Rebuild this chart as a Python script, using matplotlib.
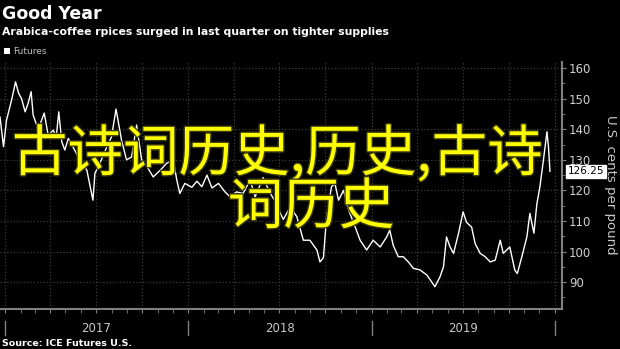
import numpy as np
import pandas as pd
import matplotlib
matplotlib.use("Agg")
import matplotlib.pyplot as plt
import matplotlib.dates as mdates
from matplotlib.patches import Patch
from matplotlib import patheffects
from matplotlib import transforms

# Arabica coffee futures, U.S. cents per pound
dates = [
    "2016-12-22", "2016-12-29", "2017-01-04", "2017-01-14", "2017-01-22", "2017-01-28",
    "2017-02-03", "2017-02-10", "2017-02-16", "2017-02-22", "2017-02-26", "2017-03-05",
    "2017-03-12", "2017-03-20", "2017-03-28", "2017-04-07", "2017-04-13", "2017-04-18",
    "2017-04-24", "2017-04-30", "2017-05-07", "2017-05-17", "2017-05-30", "2017-06-13",
    "2017-06-25", "2017-06-29", "2017-07-09", "2017-07-22", "2017-08-01", "2017-08-10",
    "2017-08-15", "2017-08-21", "2017-08-31", "2017-09-10", "2017-09-20", "2017-09-30",
    "2017-10-10", "2017-10-23", "2017-11-06", "2017-11-19", "2017-12-02", "2017-12-09",
    "2017-12-15", "2017-12-25", "2018-01-08", "2018-01-18", "2018-01-28", "2018-02-07",
    "2018-02-17", "2018-03-02", "2018-03-15", "2018-03-25", "2018-04-07", "2018-04-20",
    "2018-05-04", "2018-05-14", "2018-05-30", "2018-06-13", "2018-06-26", "2018-07-03",
    "2018-07-09", "2018-07-23", "2018-08-05", "2018-08-18", "2018-08-31", "2018-09-14",
    "2018-09-20", "2018-09-27", "2018-10-03", "2018-10-13", "2018-10-20", "2018-10-27",
    "2018-11-06", "2018-11-16", "2018-11-29", "2018-12-09", "2018-12-22", "2019-01-04",
    "2019-01-18", "2019-01-31", "2019-02-06", "2019-02-13", "2019-02-23", "2019-03-05",
    "2019-03-15", "2019-03-25", "2019-04-07", "2019-04-21", "2019-05-07", "2019-05-17",
    "2019-05-24", "2019-05-30", "2019-06-06", "2019-06-13", "2019-06-23", "2019-07-02",
    "2019-07-09", "2019-07-19", "2019-07-26", "2019-08-05", "2019-08-15", "2019-08-25",
    "2019-09-04", "2019-09-14", "2019-09-20", "2019-10-03", "2019-10-13", "2019-10-18",
    "2019-10-27", "2019-11-06", "2019-11-12", "2019-11-20", "2019-11-26", "2019-12-02",
    "2019-12-09", "2019-12-16", "2019-12-19", "2019-12-22",
]
prices = [
    144.0, 134.3, 143.0, 149.5, 155.5, 151.8,
    150.0, 145.7, 148.5, 152.3, 144.6, 141.4,
    141.7, 145.3, 138.0, 139.7, 137.5, 145.7,
    135.9, 133.2, 137.0, 134.0, 130.0, 126.6,
    116.8, 125.6, 128.9, 134.0, 137.5, 146.6,
    142.0, 136.4, 130.0, 130.9, 141.4, 130.0,
    128.0, 124.4, 126.6, 128.9, 130.0, 123.4,
    119.0, 122.3, 121.0, 123.0, 121.2, 125.0,
    120.8, 122.3, 119.5, 117.9, 119.5, 119.0,
    123.4, 117.9, 124.2, 119.0, 115.7, 112.6,
    110.5, 114.6, 111.4, 103.7, 103.7, 100.5,
    96.6, 98.0, 111.0, 121.2, 122.2, 116.8,
    120.0, 113.6, 108.1, 103.7, 100.5, 103.7,
    101.5, 104.8, 107.0, 102.0, 98.3, 98.3,
    96.6, 94.5, 94.0, 92.3, 88.5, 91.7,
    95.0, 104.8, 101.5, 99.4, 106.0, 113.0,
    109.5, 108.0, 102.6, 99.4, 98.3, 96.6,
    97.2, 103.7, 99.4, 101.5, 93.9, 92.8,
    98.3, 104.8, 112.5, 106.0, 115.7, 121.2,
    130.0, 139.2, 134.2, 126.25,
]
years = ["2017", "2018", "2019"]
yticks = [90, 100, 110, 120, 130, 140, 150, 160]
last_label = "126.25"

title = "Good Year"
subtitle = "Arabica-coffee rpices surged in last quarter on tighter supplies"
source = "Source: ICE Futures U.S."
overlay1 = "古诗词历史,历史,古诗"
overlay2 = "词历史"

cjk = ['Noto Sans CJK SC', 'DejaVu Sans']

x = pd.to_datetime(dates)

fig = plt.figure(figsize=(6.2, 3.49), dpi=100, facecolor='black')
ax = fig.add_axes([0.0, 0.1146, 0.9065, 0.7077], facecolor='black')

ax.plot(x, prices, color='white', lw=1.0)

ax.set_xlim(pd.Timestamp("2016-12-22"), pd.Timestamp("2020-01-15"))
ax.set_ylim(81.2, 162)

# axes styling
for s in ['top', 'left']:
    ax.spines[s].set_visible(False)
for s in ['right', 'bottom']:
    ax.spines[s].set_color('#808080')
    ax.spines[s].set_linewidth(1.5)

ax.yaxis.tick_right()
ax.set_yticks(yticks)
ax.set_yticks(np.arange(85, 161, 5), minor=True)
ax.tick_params(axis='y', which='major', colors='#808080', labelcolor='#d0d0d0',
               labelsize=8.5, length=3, pad=2)
ax.tick_params(axis='y', which='minor', colors='#808080', length=2)

ax.xaxis.set_major_locator(mdates.MonthLocator(bymonth=[1, 4, 7, 10]))
ax.xaxis.set_minor_locator(mdates.MonthLocator())
ax.tick_params(axis='x', which='both', colors='#808080', length=3, labelbottom=False)

ax.grid(True, which='major', color='#3c3c3c', linestyle=':', lw=0.9)

# year labels and year separator ticks below the axis
trans = transforms.blended_transform_factory(ax.transData, ax.transAxes)
for yr in years:
    mid = pd.Timestamp(yr + "-07-02")
    ax.text(mid, -0.08, yr, transform=trans, ha='center', va='center',
            fontsize=8.5, color='#c8c8c8')
for yr in ["2017", "2018", "2019", "2020"]:
    d = mdates.date2num(pd.Timestamp(yr + "-01-01"))
    ax.plot([d, d], [-0.05, -0.105], transform=trans, color='#808080', lw=1.0,
            clip_on=False)

# last value tag
ytrans = transforms.blended_transform_factory(ax.transAxes, ax.transData)
ax.text(1.01, prices[-1], last_label, transform=ytrans, ha='left', va='center',
        fontsize=7.5, color='black',
        bbox=dict(boxstyle='square,pad=0.15', fc='white', ec='white'))

fig.text(610 / 620, 1 - 185 / 349, "U.S. cents per pound", rotation=270,
         ha='center', va='center', fontsize=9.5, color='#c8c8c8')

# titles
fig.text(0.003, 1 - 14 / 349, title, fontsize=12.5, fontweight='bold',
         color='white', ha='left', va='center')
fig.text(0.003, 1 - 32 / 349, subtitle, fontsize=7.8, fontweight='bold',
         color='white', ha='left', va='center')
fig.text(0.003, 1 - 343 / 349, source, fontsize=6.8, fontweight='bold',
         color='white', ha='left', va='center')

ax.legend(handles=[Patch(facecolor='white', label='Futures')], loc='upper left',
          bbox_to_anchor=(0.006, 1 - 47 / 349), bbox_transform=fig.transFigure,
          frameon=False, fontsize=6.5, handlelength=0.7, handleheight=0.7,
          handletextpad=0.3, borderpad=0, borderaxespad=0, labelcolor='#c0c0c0')

# overlay text
fx = [patheffects.withStroke(linewidth=2, foreground='#3a3a10')]
fig.text(277 / 620, 1 - 155 / 349, overlay1, family=cjk, fontsize=40,
         color='#ffff00', ha='center', va='center', path_effects=fx)
fig.text(311 / 620, 1 - 208 / 349, overlay2, family=cjk, fontsize=40,
         color='#ffff00', ha='center', va='center', path_effects=fx)

fig.savefig("out.png", dpi=100, facecolor='black')
